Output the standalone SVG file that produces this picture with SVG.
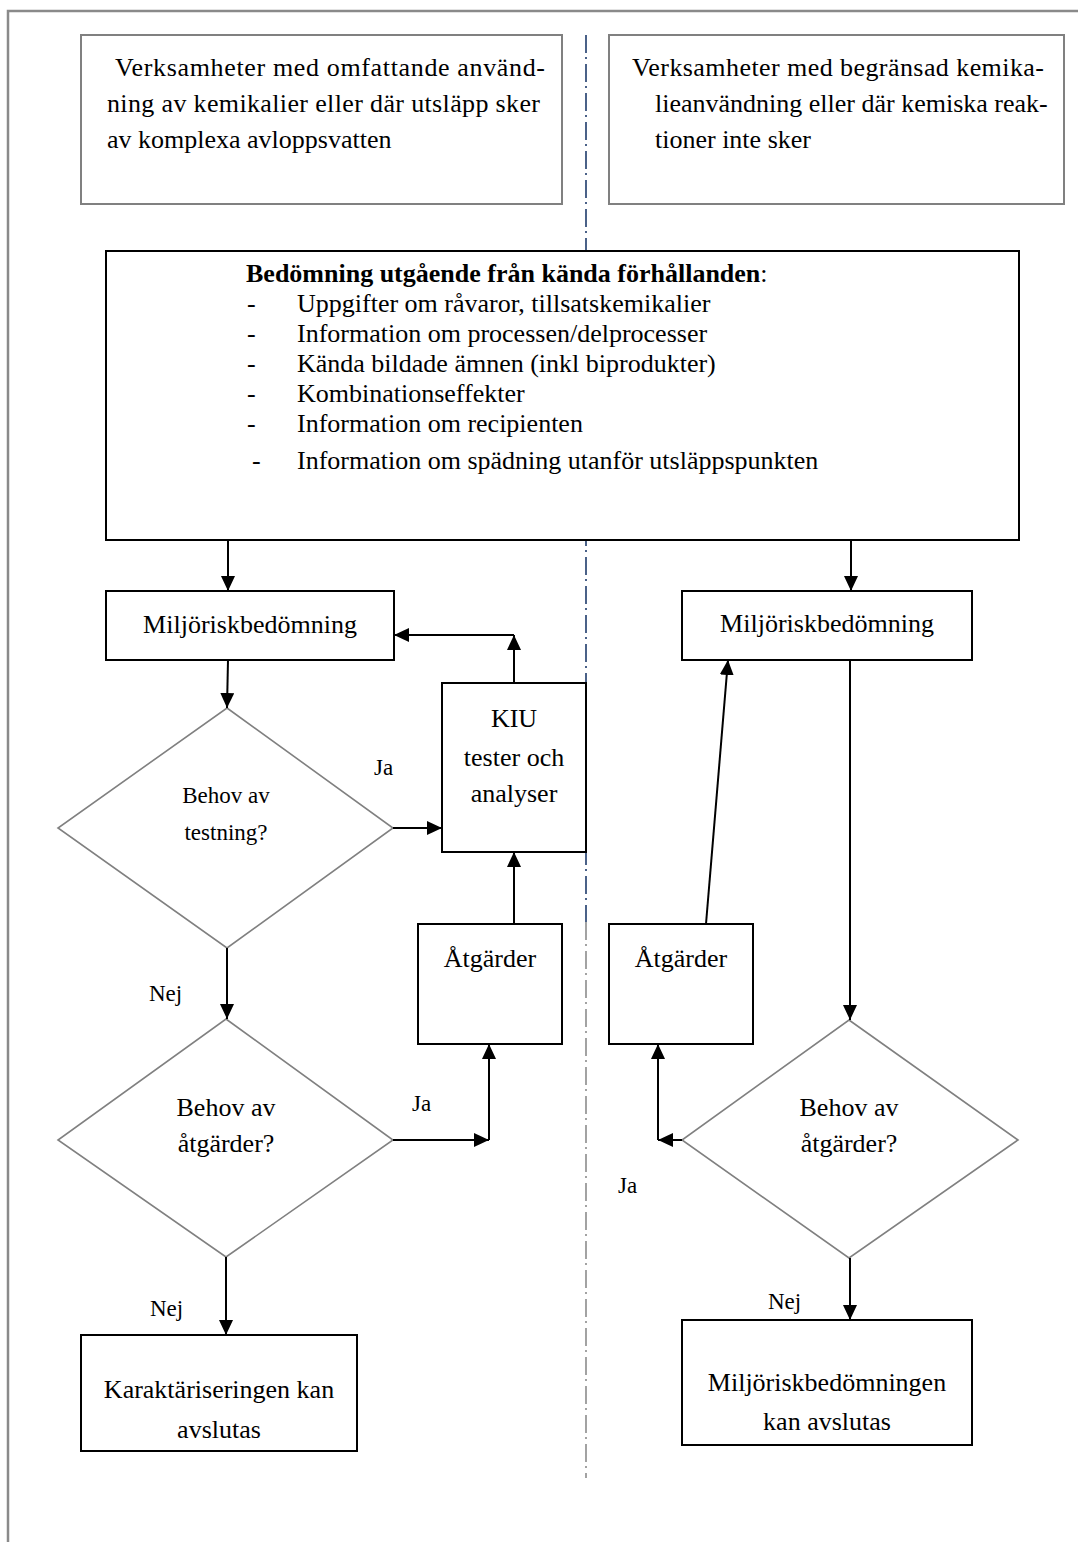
<svg xmlns="http://www.w3.org/2000/svg" width="1078" height="1542" viewBox="0 0 1078 1542">
  <defs>
    <marker id="arrow" viewBox="0 0 15 14" refX="15" refY="7" markerWidth="15" markerHeight="14" markerUnits="userSpaceOnUse" orient="auto">
      <path d="M0,0 L15,7 L0,14 z" fill="#000"/>
    </marker>
    <style>
      text { font-family: "Liberation Serif", "Times New Roman", serif; fill: #000; }
      .t26 { font-size: 26px; }
      .t23 { font-size: 23px; }
      .mid { text-anchor: middle; }
      .grey { fill: #fff; stroke: #808080; stroke-width: 2; }
      .box { fill: #fff; stroke: #000; stroke-width: 2; }
      .dia { fill: #fff; stroke: #808080; stroke-width: 1.6; }
      .conn line { stroke: #000; stroke-width: 2; marker-end: url(#arrow); }
    </style>
  </defs>

  <rect width="1078" height="1542" fill="#fff"/>

  <!-- page frame -->
  <path d="M8,1542 V11 H1078" fill="none" stroke="#8a8a8a" stroke-width="2.5"/>

  <!-- dash-dot divider between the two branches -->
  <g id="divider" fill="none" stroke-width="1.6" stroke-dasharray="18 4 2 5">
    <line x1="586" y1="35" x2="586" y2="922" stroke="#1f3b6b"/>
    <line x1="586" y1="922" x2="586" y2="1478" stroke="#8c8c8c"/>
  </g>

  <!-- header boxes -->
  <g id="scope-extensive">
    <rect class="grey" x="81" y="35" width="481" height="169"/>
    <text class="t26" x="115" y="76" textLength="430" lengthAdjust="spacing">Verksamheter med omfattande använd-</text>
    <text class="t26" x="107" y="112" textLength="433" lengthAdjust="spacing">ning av kemikalier eller där utsläpp sker</text>
    <text class="t26" x="107" y="148">av komplexa avloppsvatten</text>
  </g>
  <g id="scope-limited">
    <rect class="grey" x="609" y="35" width="455" height="169"/>
    <text class="t26" x="632" y="76" textLength="412" lengthAdjust="spacing">Verksamheter med begränsad kemika-</text>
    <text class="t26" x="655" y="112">lieanvändning eller där kemiska reak-</text>
    <text class="t26" x="655" y="148">tioner inte sker</text>
  </g>

  <!-- assessment from known conditions -->
  <g id="known-conditions">
    <rect class="box" x="106" y="251" width="913" height="289"/>
    <text class="t26" x="246" y="282"><tspan font-weight="bold">Bedömning utgående från kända förhållanden</tspan>:</text>
    <text class="t26" x="247" y="312">-</text>
    <text class="t26" x="297" y="312">Uppgifter om råvaror, tillsatskemikalier</text>
    <text class="t26" x="247" y="342">-</text>
    <text class="t26" x="297" y="342">Information om processen/delprocesser</text>
    <text class="t26" x="247" y="372">-</text>
    <text class="t26" x="297" y="372">Kända bildade ämnen (inkl biprodukter)</text>
    <text class="t26" x="247" y="402">-</text>
    <text class="t26" x="297" y="402">Kombinationseffekter</text>
    <text class="t26" x="247" y="432">-</text>
    <text class="t26" x="297" y="432">Information om recipienten</text>
    <text class="t26" x="252" y="469">-</text>
    <text class="t26" x="297" y="469">Information om spädning utanför utsläppspunkten</text>
  </g>

  <!-- left branch -->
  <g id="risk-left">
    <rect class="box" x="106" y="591" width="288" height="69"/>
    <text class="t26 mid" x="250" y="633">Miljöriskbedömning</text>
  </g>
  <g id="kiu">
    <rect class="box" x="442" y="683" width="144" height="169"/>
    <text class="t26 mid" x="514" y="727">KIU</text>
    <text class="t26 mid" x="514" y="766">tester och</text>
    <text class="t26 mid" x="514" y="802">analyser</text>
  </g>
  <g id="need-testing">
    <polygon class="dia" points="227,708 393,828 227,948 58,828"/>
    <text class="t23 mid" x="226" y="803">Behov av</text>
    <text class="t23 mid" x="226" y="840">testning?</text>
  </g>
  <g id="measures-left">
    <rect class="box" x="418" y="924" width="144" height="120"/>
    <text class="t26 mid" x="490" y="967">Åtgärder</text>
  </g>
  <g id="need-measures-left">
    <polygon class="dia" points="226,1019 393,1140 226,1257 58,1140"/>
    <text class="t26 mid" x="226" y="1116">Behov av</text>
    <text class="t26 mid" x="226" y="1152">åtgärder?</text>
  </g>
  <g id="end-left">
    <rect class="box" x="81" y="1335" width="276" height="116"/>
    <text class="t26 mid" x="219" y="1398">Karaktäriseringen kan</text>
    <text class="t26 mid" x="219" y="1438">avslutas</text>
  </g>

  <!-- right branch -->
  <g id="risk-right">
    <rect class="box" x="682" y="591" width="290" height="69"/>
    <text class="t26 mid" x="827" y="632">Miljöriskbedömning</text>
  </g>
  <g id="measures-right">
    <rect class="box" x="609" y="924" width="144" height="120"/>
    <text class="t26 mid" x="681" y="967">Åtgärder</text>
  </g>
  <g id="need-measures-right">
    <polygon class="dia" points="849,1020 1018,1140 849,1258 682,1140"/>
    <text class="t26 mid" x="849" y="1116">Behov av</text>
    <text class="t26 mid" x="849" y="1152">åtgärder?</text>
  </g>
  <g id="end-right">
    <rect class="box" x="682" y="1320" width="290" height="125"/>
    <text class="t26 mid" x="827" y="1391">Miljöriskbedömningen</text>
    <text class="t26 mid" x="827" y="1430">kan avslutas</text>
  </g>

  <!-- connectors -->
  <g id="connectors" class="conn">
    <line x1="228" y1="541" x2="228" y2="591"/>
    <line x1="851" y1="541" x2="851" y2="591"/>
    <line x1="228" y1="660" x2="227" y2="708"/>
    <line x1="393" y1="828" x2="442" y2="828"/>
    <line x1="514" y1="683" x2="514" y2="635"/>
    <line x1="514" y1="635" x2="394" y2="635"/>
    <line x1="227" y1="948" x2="227" y2="1019"/>
    <line x1="514" y1="924" x2="514" y2="852"/>
    <line x1="393" y1="1140" x2="489" y2="1140"/>
    <line x1="489" y1="1140" x2="489" y2="1044"/>
    <line x1="226" y1="1257" x2="226" y2="1335"/>
    <line x1="850" y1="660" x2="850" y2="1020"/>
    <line x1="706" y1="924" x2="728" y2="660"/>
    <line x1="682" y1="1140" x2="658" y2="1140"/>
    <line x1="658" y1="1140" x2="658" y2="1044"/>
    <line x1="850" y1="1258" x2="850" y2="1320"/>
  </g>

  <!-- branch labels -->
  <g id="labels">
    <text class="t23" x="374" y="775">Ja</text>
    <text class="t23" x="149" y="1001">Nej</text>
    <text class="t23" x="412" y="1111">Ja</text>
    <text class="t23" x="618" y="1193">Ja</text>
    <text class="t23" x="150" y="1316">Nej</text>
    <text class="t23" x="768" y="1309">Nej</text>
  </g>
</svg>
